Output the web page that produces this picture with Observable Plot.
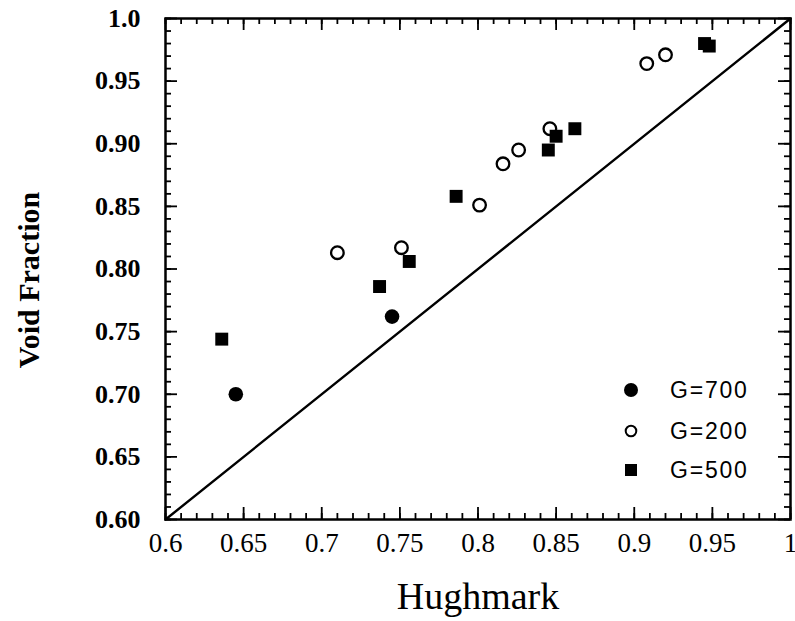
<!DOCTYPE html>
<html><head><meta charset="utf-8">
<script src="https://cdn.jsdelivr.net/npm/d3@7"></script>
<script src="https://cdn.jsdelivr.net/npm/@observablehq/plot@0.6"></script>
<style>
body{margin:0;background:#fff;}
#wrap{position:relative;width:795px;height:621px;}
#legend{position:absolute;left:0;top:0;pointer-events:none;}
</style></head><body><div id="wrap"></div>
<script>
// ---- data ----
const g700X = [0.645, 0.745];
const g700Y = [0.700, 0.762];
const g200X = [0.710, 0.751, 0.801, 0.816, 0.826, 0.846, 0.908, 0.920];
const g200Y = [0.813, 0.817, 0.851, 0.884, 0.895, 0.912, 0.964, 0.971];
const g500X = [0.636, 0.737, 0.756, 0.786, 0.845, 0.850, 0.862, 0.945, 0.948];
const g500Y = [0.744, 0.786, 0.806, 0.858, 0.895, 0.906, 0.912, 0.980, 0.978];
const refX = [0.6, 1.0];
const refY = [0.6, 1.0];
const xTicks = [0.6, 0.65, 0.7, 0.75, 0.8, 0.85, 0.9, 0.95, 1.0];
const xTickLabels = ["0.6", "0.65", "0.7", "0.75", "0.8", "0.85", "0.9", "0.95", "1"];
const yTicks = [0.6, 0.65, 0.7, 0.75, 0.8, 0.85, 0.9, 0.95, 1.0];
const yTickLabels = ["0.60", "0.65", "0.70", "0.75", "0.80", "0.85", "0.90", "0.95", "1.0"];
const minorTicks = d3.range(60, 101).map(d => d / 100);
const legendLabels = ["G=700", "G=200", "G=500"];
const xTitle = "Hughmark";
const yTitle = "Void Fraction";

const W = 795, H = 621;
const mL = 165, mR = 5, mT = 18, mB = 102;
const iw = W - mL - mR, ih = H - mT - mB;
const serif = "'Liberation Serif', 'Times New Roman', serif";
const sans = "'Liberation Sans', Arial, sans-serif";

const pts = (xs, ys) => xs.map((x, i) => ({x, y: ys[i]}));
const g700 = pts(g700X, g700Y), g200 = pts(g200X, g200Y), g500 = pts(g500X, g500Y);
const ref = pts(refX, refY);
const xLab = xTicks.map((v, i) => ({v, t: xTickLabels[i]}));
const yLab = yTicks.map((v, i) => ({v, t: yTickLabels[i]}));

const majorLen = 12, minorLen = 6, tw = 1.8;

const chart = Plot.plot({
  width: W, height: H,
  marginLeft: mL, marginRight: mR, marginTop: mT, marginBottom: mB,
  x: {domain: [0.6, 1.0], axis: null},
  y: {domain: [0.6, 1.0], axis: null},
  style: {background: "white", color: "black"},
  marks: [
    // minor ticks (inward, all sides)
    Plot.tickX(minorTicks, {x: d => d, insetTop: ih - minorLen, strokeWidth: tw}),
    Plot.tickX(minorTicks, {x: d => d, insetBottom: ih - minorLen, strokeWidth: tw}),
    Plot.tickY(minorTicks, {y: d => d, insetRight: iw - minorLen, strokeWidth: tw}),
    Plot.tickY(minorTicks, {y: d => d, insetLeft: iw - minorLen, strokeWidth: tw}),
    // major ticks
    Plot.tickX(xTicks, {x: d => d, insetTop: ih - majorLen, strokeWidth: tw}),
    Plot.tickX(xTicks, {x: d => d, insetBottom: ih - majorLen, strokeWidth: tw}),
    Plot.tickY(yTicks, {y: d => d, insetRight: iw - majorLen, strokeWidth: tw}),
    Plot.tickY(yTicks, {y: d => d, insetLeft: iw - majorLen, strokeWidth: tw}),
    // tick labels
    Plot.text(xLab, {x: "v", text: "t", frameAnchor: "bottom", lineAnchor: "top", dy: 13,
      fontSize: 27, fontFamily: serif, fill: "black"}),
    Plot.text(yLab, {y: "v", text: "t", frameAnchor: "left", textAnchor: "end", dx: -25,
      fontSize: 26, fontFamily: serif, fontWeight: "bold", fill: "black"}),
    Plot.line(ref, {x: "x", y: "y", stroke: "black", strokeWidth: 2.4}),
    Plot.dot(g200, {x: "x", y: "y", r: 6.3, stroke: "black", strokeWidth: 2.3, fill: "white"}),
    Plot.dot(g700, {x: "x", y: "y", r: 7.3, fill: "black", stroke: "none"}),
    Plot.dot(g500, {x: "x", y: "y", symbol: "square", r: 7.3, fill: "black", stroke: "none"}),
    Plot.frame({stroke: "black", strokeWidth: 2.5}),
    Plot.text([xTitle], {frameAnchor: "bottom", lineAnchor: "top", dy: 63,
      fontSize: 38, fontFamily: serif, fill: "black"}),
    Plot.text([yTitle], {frameAnchor: "left", textAnchor: "middle", rotate: -90, lineAnchor: "bottom", dx: -127, dy: 11,
      fontSize: 30, fontWeight: "bold", fontFamily: serif, fill: "black"})
  ]
});
const wrap = document.getElementById("wrap");
wrap.appendChild(chart);

// legend overlay
const lg = d3.select(wrap).append("svg").attr("id", "legend").attr("width", W).attr("height", H);
const lx = 631, ly = [390, 431, 470], tx = 670;
lg.append("circle").attr("cx", lx).attr("cy", ly[0]).attr("r", 7).attr("fill", "black");
lg.append("circle").attr("cx", lx).attr("cy", ly[1]).attr("r", 5.3).attr("fill", "white").attr("stroke", "black").attr("stroke-width", 2);
lg.append("rect").attr("x", lx - 6).attr("y", ly[2] - 6).attr("width", 12).attr("height", 12).attr("fill", "black");
legendLabels.forEach((t, i) => {
  lg.append("text").attr("x", tx).attr("y", ly[i] + 8.3)
    .attr("font-family", sans).attr("font-size", 23).attr("letter-spacing", "1.8px")
    .attr("fill", "black").text(t);
});
</script></body></html>
